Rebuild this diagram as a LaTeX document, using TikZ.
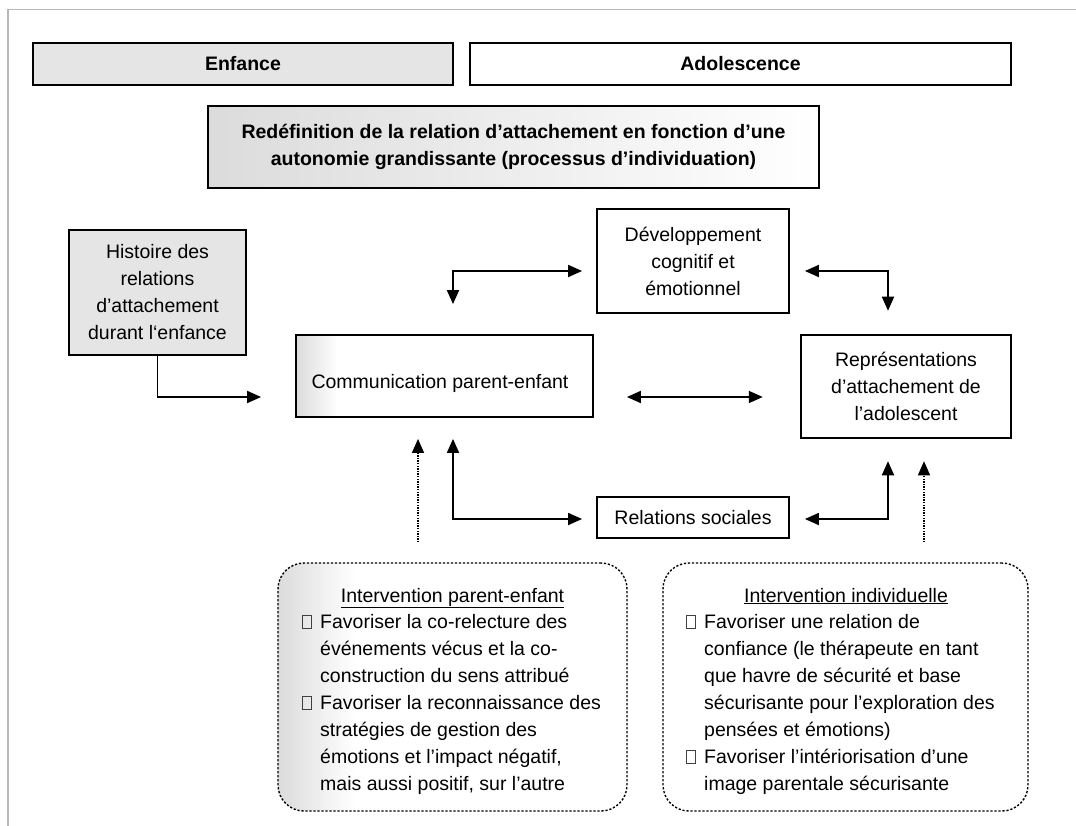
\documentclass[tikz,border=0pt]{standalone}
\usepackage{fontspec}
\setmainfont{Liberation Sans}
\usetikzlibrary{arrows.meta,calc}
\definecolor{boxgray}{gray}{0.9}
\definecolor{fadegray}{gray}{0.86}
\definecolor{framegray}{gray}{0.72}
\pgfdeclarehorizontalshading{commfade}{100bp}{color(0bp)=(fadegray); color(25bp)=(fadegray); color(32bp)=(white); color(100bp)=(white)}
\pgfdeclarehorizontalshading{ipefade}{100bp}{color(0bp)=(fadegray); color(25bp)=(fadegray); color(36bp)=(white); color(100bp)=(white)}
\newcommand{\bxx}{\makebox[18pt][l]{\textcolor{black!75}{\setlength{\fboxsep}{0pt}\setlength{\fboxrule}{0.9pt}\fbox{\rule{0pt}{12pt}\rule{8pt}{0pt}}}}}
\newcommand{\ind}{\hspace*{18pt}}
\begin{document}
\begin{tikzpicture}[x=1pt,y=-1pt,
  txt/.style={font=\fontsize{19.5}{27}\selectfont},
  btxt/.style={font=\fontsize{19.5}{27}\selectfont\bfseries},
  box/.style={draw,line width=1.8pt,inner sep=0pt,align=center,txt},
  roundbox/.style={draw,line width=1.4pt,dash pattern=on 2.2pt off 1.8pt,rounded corners=26pt,inner sep=0pt},
  tip/.tip={Triangle[length=14pt,width=12pt]},
  arrone/.style={line width=1.8pt,-tip},
  arrboth/.style={line width=1.8pt,tip-tip},
  dotarr/.style={line width=1.3pt,dash pattern=on 1.3pt off 1.3pt,-tip},
  framel/.style={draw=framegray,line width=1.2pt}]
\useasboundingbox (0,0) rectangle (1076,826);
\draw[framel] (1076,9.5) -- (8,9.5) -- (8,826);

\node[box,btxt,fill=boxgray,minimum width=420pt,minimum height=42pt] (enf) at (243,64) {Enfance};
\node[box,btxt,fill=white,minimum width=541pt,minimum height=42pt] (ado) at (740.5,64) {Adolescence};
\node[box,btxt,left color=fadegray,right color=white,minimum width=611pt,minimum height=82pt] (redef) at (513.5,147)
  {Redéfinition de la relation d’attachement en fonction d’une\\autonomie grandissante (processus d’individuation)};

\node[box,fill=boxgray,minimum width=177pt,minimum height=125pt] (hist) at (157.5,292.5)
  {Histoire des\\relations\\d’attachement\\durant l‘enfance};
\node[box,minimum width=192pt,minimum height=104pt] (dev) at (693,261)
  {Développement\\cognitif et\\émotionnel};
\node[box,shade,shading=commfade,minimum width=297pt,minimum height=82pt] (comm) at (444.5,376) {};
\node[txt,inner sep=0pt] (commtxt) at (440,383) {Communication parent-enfant};
\node[box,line width=2.5pt,minimum width=210pt,minimum height=103pt] (rep) at (906,386.5)
  {Représentations\\d’attachement de\\l’adolescent};
\node[box,minimum width=192pt,minimum height=41pt] (rel) at (693,517.5) {Relations sociales};

\node[roundbox,shade,shading=ipefade,minimum width=349pt,minimum height=248pt] (ipe) at (452.5,687) {};
\node[roundbox,fill=white,minimum width=365pt,minimum height=248pt] (iind) at (845.5,687) {};

\node[txt,anchor=base,inner sep=0pt] (ipet) at (452.5,602) {\underline{Intervention parent-enfant}};
\node[txt,anchor=north west,align=left,inner sep=0pt] (ipel) at (302,614)
  {\bxx Favoriser la co-relecture des\\
   \ind événements vécus et la co-\\
   \ind construction du sens attribué\\
   \bxx Favoriser la reconnaissance des\\
   \ind stratégies de gestion des\\
   \ind émotions et l’impact négatif,\\
   \ind mais aussi positif, sur l’autre};
\node[txt,anchor=base,inner sep=0pt] (iindt) at (846,602) {\underline{Intervention individuelle}};
\node[txt,anchor=north west,align=left,inner sep=0pt] (iindl) at (686,614)
  {\bxx Favoriser une relation de\\
   \ind confiance (le thérapeute en tant\\
   \ind que havre de sécurité et base\\
   \ind sécurisante pour l’exploration des\\
   \ind pensées et émotions)\\
   \bxx Favoriser l’intériorisation d’une\\
   \ind image parentale sécurisante};

\draw[arrone] (hist.south) |- ($(comm.west)+(-34,21)$);
\draw[arrboth] ($(comm.north)+(8.5,-30)$) |- ($(dev.west)+(-14,10)$);
\draw[arrboth] ($(dev.east)+(15,10)$) -| ($(rep.north)+(-18,-23)$);
\draw[arrboth] ($(comm.east)+(33,21)$) -- ($(rep.west)+(-37,10.5)$);
\draw[arrboth] ($(comm.south)+(8.5,21)$) |- ($(rel.west)+(-14,1.5)$);
\draw[arrboth] ($(rel.east)+(15,1.5)$) -| ($(rep.south)+(-18,22)$);
\draw[dotarr] ($(ipe.north)+(-34.5,-20)$) -- ($(comm.south)+(-26.5,21)$);
\draw[dotarr] ($(iind.north)+(78.5,-20)$) -- ($(rep.south)+(18,22)$);
\end{tikzpicture}
\end{document}
